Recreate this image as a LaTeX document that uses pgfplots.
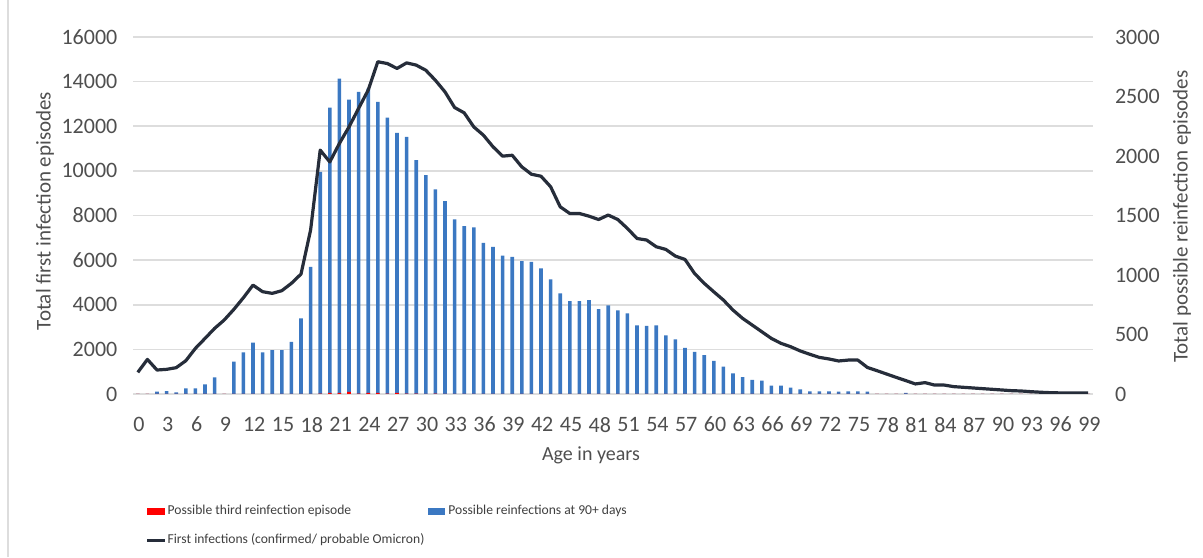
\documentclass[border=0pt]{standalone}
\usepackage{fontspec}
\setmainfont{Carlito}
\usepackage{pgfplots}
\usepackage{pgfplotstable}
\pgfplotsset{compat=1.18}
\definecolor{barblue}{HTML}{3B78C2}
\definecolor{linec}{HTML}{262D3A}
\definecolor{gridc}{HTML}{DDDDDD}
\definecolor{txt}{HTML}{4F4F4F}
\definecolor{legtxt}{HTML}{3F3F3F}
\pgfplotstableread{
age first reinf third
0 970 0 0
1 1550 0 0
2 1075 20 0
3 1105 25 0
4 1180 14 0
5 1490 48 0
6 2045 48 0
7 2490 81 0
8 2940 140 0
9 3315 0 0
10 3790 272 0
11 4315 350 0
12 4880 431 0
13 4585 350 0
14 4510 369 0
15 4630 369 0
16 4960 439 0
17 5375 635 0
18 7350 1069 0
19 10930 1867 4
20 10400 2407 10
21 11230 2651 10
22 11970 2474 18
23 12800 2539 4
24 13620 2567 10
25 14890 2455 10
26 14810 2323 4
27 14590 2194 10
28 14840 2161 4
29 14740 1965 4
30 14510 1839 0
31 14060 1719 3
32 13540 1621 0
33 12840 1467 0
34 12600 1411 0
35 11970 1400 0
36 11600 1271 0
37 11080 1237 0
38 10660 1162 0
39 10700 1153 0
40 10180 1117 0
41 9850 1111 0
42 9760 1055 0
43 9290 963 0
44 8390 845 0
45 8090 781 0
46 8090 781 0
47 7970 789 0
48 7820 714 0
49 8020 745 0
50 7820 703 0
51 7420 677 0
52 6970 577 0
53 6900 573 0
54 6600 577 0
55 6480 493 0
56 6180 460 0
57 6030 387 0
58 5400 355 0
59 4960 327 0
60 4580 278 0
61 4210 231 0
62 3760 174 0
63 3390 142 0
64 3090 118 0
65 2790 112 0
66 2490 70 0
67 2270 70 0
68 2120 53 0
69 1930 39 0
70 1780 22 0
71 1640 22 0
72 1570 22 0
73 1480 20 0
74 1520 22 0
75 1520 22 0
76 1190 20 0
77 1045 0 0
78 895 0 0
79 745 0 0
80 600 10 0
81 450 0 0
82 510 0 0
83 400 0 0
84 400 0 0
85 330 0 0
86 300 0 0
87 270 0 0
88 240 0 0
89 210 0 0
90 180 0 0
91 150 0 0
92 135 0 0
93 105 0 0
94 80 0 0
95 60 0 0
96 50 0 0
97 45 0 0
98 45 0 0
99 45 0 0
}\datatable
\pgfplotsset{
  base/.style={
    width=480pt, height=178.5pt, scale only axis,
    at={(66.5pt,81.5pt)}, anchor=south west,
    xmin=-0.5, xmax=99.5,
    axis line style={draw=none},
    major tick length=0pt,
    tick label style={font=\fontsize{11}{13}\selectfont, text=txt},
    /pgf/number format/assume math mode=true,
    /pgf/number format/fixed,
    /pgf/number format/precision=0,
    /pgf/number format/1000 sep={},
    scaled y ticks=false,
  }
}
\begin{document}
\begin{tikzpicture}
\useasboundingbox (0,0) rectangle (601.5pt,278.5pt);
\draw[gridc, line width=0.6pt] (4pt,0) -- (4pt,278.5pt);
% grid, left axis, x ticks
\begin{axis}[base,
  ymin=0, ymax=16000, ytick={0,2000,...,16000},
  ymajorgrids, grid style={color=gridc, line width=0.8pt},
  xtick={0,3,...,99},
  xticklabel style={yshift=-8pt, xshift=0.6pt},
  yticklabel style={xshift=-4.3pt},
]
\end{axis}
% bars, right axis
\begin{axis}[base,
  axis y line*=right, axis x line=none,
  ymin=0, ymax=3000, ytick={0,500,...,3000},
  yticklabel style={xshift=7.5pt},
]
\addplot[ybar, bar width=1.8pt, bar shift=0pt, fill=barblue, draw=none] table[x=age, y=reinf] {\datatable};
\addplot[ybar, bar width=1.8pt, bar shift=0pt, fill=red, draw=none] table[x=age, y=third] {\datatable};
\end{axis}
% line, left scale
\begin{axis}[base, hide axis, ymin=0, ymax=16000]
\addplot[color=linec, line width=1.6pt, line join=round, mark=none] table[x=age, y=first] {\datatable};
\end{axis}
% axis titles
\node[rotate=90, text=txt, font=\fontsize{10.5}{12}\selectfont] at (22.5pt,173pt) {Total first infection episodes};
\node[rotate=90, text=txt, font=\fontsize{10.5}{12}\selectfont] at (591pt,170.25pt) {Total possible reinfection episodes};
\node[text=txt, font=\fontsize{10}{12}\selectfont] at (295.5pt,51pt) {Age in years};
% legend
\fill[red] (73.3pt,21pt) rectangle (82.5pt,24.5pt);
\node[anchor=west, inner sep=0pt, text=legtxt, font=\fontsize{6.8}{8}\selectfont] at (83.6pt,23pt) {Possible third reinfection episode};
\fill[barblue] (214pt,21pt) rectangle (222.5pt,24.5pt);
\node[anchor=west, inner sep=0pt, text=legtxt, font=\fontsize{6.8}{8}\selectfont] at (224pt,23pt) {Possible reinfections at 90+ days};
\draw[linec, line width=1.5pt] (73.5pt,8.5pt) -- (82.5pt,8.5pt);
\node[anchor=west, inner sep=0pt, text=legtxt, font=\fontsize{6.8}{8}\selectfont] at (83.6pt,8.5pt) {First infections (confirmed/ probable Omicron)};
\end{tikzpicture}
\end{document}
